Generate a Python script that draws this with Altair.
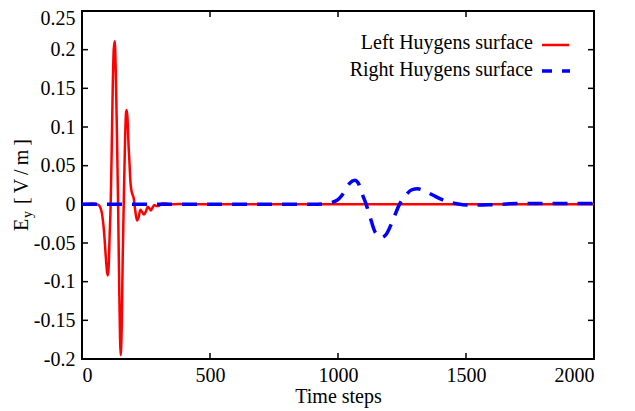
import altair as alt
import pandas as pd

# ---- data ----
red_t = [0, 40, 60, 70, 78, 86, 93, 98, 101, 104, 108, 112, 116, 120, 124, 128, 132, 136,
         141, 146, 151, 155, 159, 163, 168, 172, 175, 178, 182, 185, 189, 193, 198, 202,
         208, 215, 221, 228, 235, 242, 250, 257, 263, 269, 276, 283, 290, 300, 312, 325,
         345, 380, 450, 600, 800, 1000, 1500, 2000]
red_v = [0, 0.001, 0, -0.003, -0.012, -0.035, -0.068, -0.088, -0.092, -0.082, -0.04, 0.0,
         0.07, 0.15, 0.2, 0.211, 0.17, 0.1, 0.0, -0.12, -0.195, -0.16, -0.07, 0.0, 0.08,
         0.118, 0.122, 0.11, 0.075, 0.057, 0.03, 0.018, 0.012, 0.008, -0.008, -0.021,
         -0.017, -0.007, -0.01, -0.013, -0.009, -0.003, -0.005, -0.008, -0.004, -0.001,
         -0.002, -0.002, 0.001, 0.001, 0, 0.0005, 0, 0, 0, 0, 0, 0]

blue_t = [0, 500, 900, 940, 970, 1000, 1025, 1045, 1065, 1080, 1095, 1110, 1125, 1145,
          1169, 1190, 1215, 1240, 1265, 1290, 1311, 1340, 1370, 1400, 1430, 1460, 1500,
          1550, 1600, 1700, 1800, 1900, 2000]
blue_v = [0, 0, 0, 0.0005, 0.002, 0.006, 0.016, 0.027, 0.031, 0.027, 0.013, 0, -0.016,
          -0.036, -0.043, -0.038, -0.02, 0, 0.012, 0.019, 0.020, 0.017, 0.012, 0.007,
          0.003, 0.001, -0.001, -0.001, -0.0005, 0.001, 0.001, 0.001, 0.001]

x_ticks = [0, 500, 1000, 1500, 2000]
y_ticks = [-0.2, -0.15, -0.1, -0.05, 0, 0.05, 0.1, 0.15, 0.2, 0.25]

legend_labels = ["Left Huygens surface", "Right Huygens surface"]
x_title = "Time steps"

# ---- layout ----
W, H = 512, 348
FONT = "Liberation Serif"
FS = 20
TICK = 6

xscale = alt.Scale(domain=[0, 2000], nice=False, zero=False)
yscale = alt.Scale(domain=[-0.2, 0.25], nice=False, zero=False)

x_axis = alt.Axis(values=x_ticks, title=x_title, ticks=False, domain=False, grid=False,
                  labelFont=FONT, labelFontSize=FS, labelColor="black", labelPadding=6,
                  titleFont=FONT, titleFontSize=FS, titleFontWeight="normal",
                  titleColor="black", titlePadding=1, format="d")
y_axis = alt.Axis(values=y_ticks, title=None, ticks=False, domain=False, grid=False,
                  labelFont=FONT, labelFontSize=FS, labelColor="black", labelPadding=7,
                  labelExpr="datum.value + ''",
                  labelOffset={"condition": {"test": "datum.value >= 0.25", "value": 7},
                               "value": 0})

X = lambda f: alt.X(f, scale=xscale, axis=x_axis)
Y = lambda f: alt.Y(f, scale=yscale, axis=y_axis)

red_df = pd.DataFrame({"t": red_t, "v": red_v})
blue_df = pd.DataFrame({"t": blue_t, "v": blue_v})
xt_df = pd.DataFrame({"t": x_ticks})
yt_df = pd.DataFrame({"v": y_ticks})

red = alt.Chart(red_df).mark_line(color="#ff0000", strokeWidth=2.5, interpolate="monotone").encode(
    x=X("t:Q"), y=Y("v:Q"))
blue = alt.Chart(blue_df).mark_line(color="#0000ff", strokeWidth=3.5, strokeDash=[15, 10],
                                    interpolate="monotone").encode(x=X("t:Q"), y=Y("v:Q"))

xt_bot = alt.Chart(xt_df).mark_rule(color="black", strokeWidth=1.5).encode(
    x=X("t:Q"), y=alt.value(H), y2=alt.value(H - TICK))
xt_top = alt.Chart(xt_df).mark_rule(color="black", strokeWidth=1.5).encode(
    x=X("t:Q"), y=alt.value(0), y2=alt.value(TICK))
yt_left = alt.Chart(yt_df).mark_rule(color="black", strokeWidth=1.5).encode(
    y=Y("v:Q"), x=alt.value(0), x2=alt.value(TICK))
yt_right = alt.Chart(yt_df).mark_rule(color="black", strokeWidth=1.5).encode(
    y=Y("v:Q"), x=alt.value(W), x2=alt.value(W - TICK))

def txt(s, x, y, **kw):
    return alt.Chart(pd.DataFrame({"s": [s]})).mark_text(
        font=FONT, color="black", **kw).encode(text="s:N", x=alt.value(x), y=alt.value(y))

leg1 = txt(legend_labels[0], 451, 32, align="right", baseline="middle", fontSize=FS)
leg2 = txt(legend_labels[1], 451, 58.5, align="right", baseline="middle", fontSize=FS)
legr = alt.Chart(pd.DataFrame({"a": [0]})).mark_rule(color="#ff0000", strokeWidth=2.5).encode(
    x=alt.value(460), x2=alt.value(487), y=alt.value(34))
legb = alt.Chart(pd.DataFrame({"a": [0]})).mark_rule(color="#0000ff", strokeWidth=3.5,
                                                     strokeDash=[10, 10]).encode(
    x=alt.value(460), x2=alt.value(488), y=alt.value(60))

# rotated y title: E_y [V/m]
t_E = txt("E", -60, 220, align="left", baseline="middle", angle=270, fontSize=20)
t_y = txt("y", -54, 207, align="left", baseline="middle", angle=270, fontSize=14)
t_u = txt("[\u2009V\u2009/\u2009m\u2009]", -60, 193, align="left", baseline="middle",
          angle=270, fontSize=20)

chart = alt.layer(xt_bot, xt_top, yt_left, yt_right, red, blue, legr, legb, leg1, leg2,
                  t_E, t_y, t_u).properties(
    width=W, height=H,
    autosize=alt.AutoSizeParams(type="none"),
    padding={"left": 74, "top": 3, "right": 33, "bottom": 52},
).configure_view(stroke="black", strokeWidth=2)

chart.save("out.html", embed_options={"renderer": "svg", "actions": False})
